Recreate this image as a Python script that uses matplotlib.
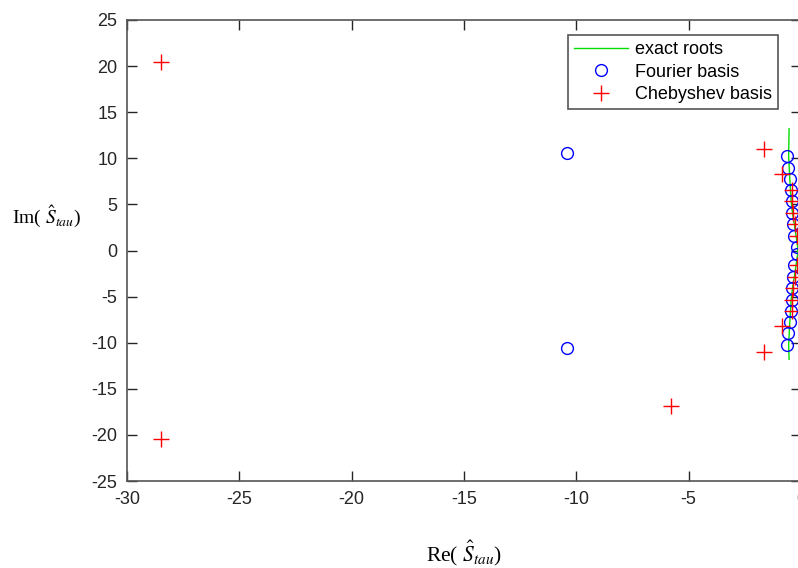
import matplotlib
matplotlib.use("Agg")
import matplotlib.pyplot as plt


# exact roots (green curve)
exact_re = [-0.53, -0.55, -0.5, -0.44, -0.38, -0.3, -0.22, -0.15,
            -0.15, -0.22, -0.3, -0.38, -0.44, -0.5, -0.55, -0.53]
exact_im = [13.2, 10.2, 7.8, 5.4, 4.1, 2.9, 1.6, 0.4,
            -0.4, -1.6, -2.9, -4.1, -5.4, -7.8, -10.2, -11.8]

# Fourier basis roots
fourier_re = [-10.4, -10.4,
              -0.62, -0.56, -0.47, -0.43, -0.41, -0.39, -0.35, -0.29, -0.2,
              -0.2, -0.29, -0.35, -0.39, -0.41, -0.43, -0.47, -0.56, -0.62]
fourier_im = [10.6, -10.6,
              10.2, 9.0, 7.8, 6.6, 5.4, 4.1, 2.9, 1.6, 0.4,
              -0.4, -1.6, -2.9, -4.1, -5.4, -6.6, -7.8, -9.0, -10.2]

# Chebyshev basis roots
cheb_re = [-28.5, -28.5, -5.8, -5.8, -1.65, -1.65, -0.85, -0.85,
           -0.4, -0.38, -0.34, -0.28, -0.18,
           -0.18, -0.28, -0.34, -0.38, -0.4]
cheb_im = [20.4, -20.4, 16.9, -16.9, 11.0, -11.0, 8.3, -8.2,
           6.6, 5.4, 4.1, 2.9, 1.6,
           -1.6, -2.9, -4.1, -5.4, -6.6]

x_ticks = [-30, -25, -20, -15, -10, -5, 0]
y_ticks = [-25, -20, -15, -10, -5, 0, 5, 10, 15, 20, 25]


def graph() -> None:

    plt.rcParams["font.family"] = ["Liberation Sans", "DejaVu Sans"]
    plt.rcParams["mathtext.fontset"] = "stix"
    plt.rcParams["axes.unicode_minus"] = False

    fig = plt.figure(figsize=(7.98, 5.68), dpi=100)

    # right spine sits just past the picture edge, as in the source
    ax = fig.add_axes([127 / 798, 87 / 568, 674 / 798, 461 / 568])

    ax.plot(
        exact_re,
        exact_im,
        color="#00dd00",
        linewidth=1.0,
        label="exact roots"
    )

    ax.plot(
        fourier_re,
        fourier_im,
        linestyle="none",
        marker="o",
        markersize=8.5,
        markerfacecolor="none",
        markeredgecolor="#0000ff",
        markeredgewidth=1.0,
        label="Fourier basis"
    )

    ax.plot(
        cheb_re,
        cheb_im,
        linestyle="none",
        marker="+",
        markersize=11,
        color="#ff0000",
        markeredgewidth=1.0,
        label="Chebyshev basis"
    )

    ax.set_xlim(-30, 0)
    ax.set_ylim(-25, 25)
    ax.set_xticks(x_ticks)
    ax.set_yticks(y_ticks)

    ax.tick_params(
        direction="in",
        length=7,
        width=1.0,
        top=True,
        right=True,
        labelsize=13,
        colors="#262626",
        pad=7
    )

    for spine in ax.spines.values():
        spine.set_color("#555555")
        spine.set_linewidth(1.2)

    ax.set_xlabel(
        r"Re( $\hat{S}_{tau}$)",
        family="Liberation Serif",
        fontsize=15.5,
        labelpad=22
    )

    ax.set_ylabel(
        r"Im( $\hat{S}_{tau}$)",
        family="Liberation Serif",
        fontsize=14,
        rotation=0,
        va="center"
    )
    ax.yaxis.set_label_coords(-0.119, 0.572)

    leg = ax.legend(
        loc="upper right",
        bbox_to_anchor=(778 / 798, 1 - 35 / 568),
        bbox_transform=fig.transFigure,
        fontsize=13,
        frameon=True,
        fancybox=False,
        framealpha=1.0,
        borderaxespad=0,
        handlelength=3.0,
        handletextpad=0.35,
        labelspacing=0.3,
        borderpad=0.35
    )
    leg.get_frame().set_edgecolor("#555555")
    leg.get_frame().set_linewidth(1.2)

    fig.savefig("out.png", dpi=100)


if __name__ == "__main__":
    graph()
